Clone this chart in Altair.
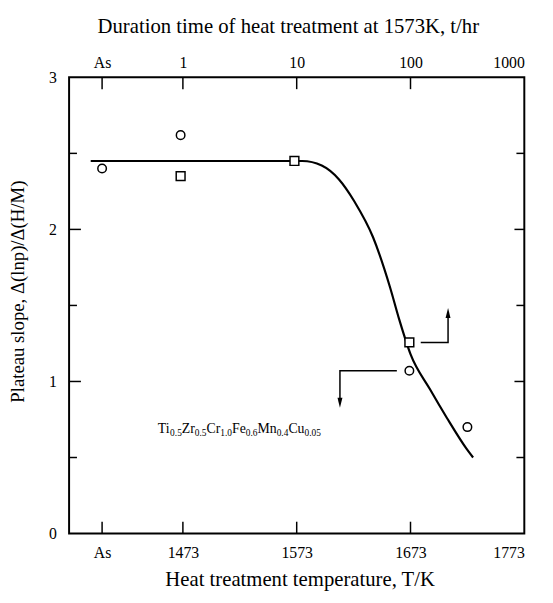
import altair as alt
import pandas as pd

# ---------------- data ----------------
x_ticks = [1402, 1473, 1573, 1673, 1773]
x_labels_bottom = ["As", "1473", "1573", "1673", "1773"]
x_labels_top = ["As", "1", "10", "100", "1000"]
y_labels = [0, 1, 2, 3]
y_major = [1, 2]
y_minor = [0.5, 1.5, 2.5]

circle_x = [1402, 1471, 1672, 1723]
circle_y = [2.40, 2.62, 1.07, 0.70]
square_x = [1471, 1571, 1672]
square_y = [2.35, 2.45, 1.257]

curve_x = [1392, 1578, 1595, 1610, 1624, 1640, 1655, 1663, 1673, 1690, 1705, 1722, 1728]
curve_y = [2.45, 2.45, 2.42, 2.33, 2.18, 1.95, 1.62, 1.41, 1.18, 0.95, 0.76, 0.56, 0.50]

arrow_up_x = [1682, 1706, 1706]
arrow_up_y = [1.257, 1.257, 1.45]
arrow_down_x = [1661, 1611, 1611]
arrow_down_y = [1.07, 1.07, 0.86]

elements = ["Ti", "Zr", "Cr", "Fe", "Mn", "Cu"]
subs = ["0.5", "0.5", "1.0", "0.6", "0.4", "0.05"]
label_anchor = (1451, 0.66)

FONT = "Liberation Serif"
W, H = 462, 463
XDOM = [1373, 1773]
YDOM = [0, 3]

xs = alt.Scale(domain=XDOM, nice=False, zero=False)
ys = alt.Scale(domain=YDOM, nice=False, zero=True)

ticks_arr = "[" + ",".join(str(v) for v in x_ticks) + "]"
bot_arr = "[" + ",".join("'" + s + "'" for s in x_labels_bottom) + "]"
top_arr = "[" + ",".join("'" + s + "'" for s in x_labels_top) + "]"

circles = pd.DataFrame({"x": circle_x, "y": circle_y})
squares = pd.DataFrame({"x": square_x, "y": square_y})
curve = pd.DataFrame({"x": curve_x, "y": curve_y, "o": range(len(curve_x))})

base_axis = dict(labelFont=FONT, titleFont=FONT, labelColor="black", titleColor="black",
                 titleFontWeight="normal", ticks=False, domain=False, grid=False,
                 labelFontSize=16)


def X(**kw):
    return alt.X("x:Q", scale=xs, axis=None, **kw)


def Y(**kw):
    return alt.Y("y:Q", scale=ys, axis=None, **kw)


# bottom axis + left axis (curve)
curve_layer = alt.Chart(curve).mark_line(color="black", strokeWidth=2.2, interpolate="monotone").encode(
    x=alt.X("x:Q", scale=xs, axis=alt.Axis(
        orient="bottom", values=x_ticks, labelExpr=bot_arr + "[indexof(" + ticks_arr + ", datum.value)]",
        title="Heat treatment temperature, T/K", labelPadding=11, titlePadding=9,
        titleFontSize=21, titleX=234, **base_axis)),
    y=alt.Y("y:Q", scale=ys, axis=alt.Axis(
        orient="left", values=y_labels, format="d", title="Plateau slope, Δ(lnp)/Δ(H/M)",
        labelPadding=13, titlePadding=21, titleFontSize=19, titleY=217, **base_axis)),
    order="o:Q",
)

# top axis (squares)
square_layer = alt.Chart(squares).mark_point(shape="square", size=80, filled=True, fill="white",
                                               stroke="black", strokeWidth=1.5, opacity=1).encode(
    x=alt.X("x:Q", scale=xs, axis=alt.Axis(
        orient="top", values=x_ticks, labelExpr=top_arr + "[indexof(" + ticks_arr + ", datum.value)]",
        title="Duration time of heat treatment at 1573K, t/hr", labelPadding=7, titlePadding=18,
        titleFontSize=21, titleX=222, **base_axis)),
    y=Y(),
)

circle_layer = alt.Chart(circles).mark_point(shape="circle", size=75, filled=True, fill="white",
                                               stroke="black", strokeWidth=1.5, opacity=1).encode(
    x=X(), y=Y())

HEAD_UP = "M0,-1L0.5,1L-0.5,1Z"
HEAD_DOWN = "M0,1L0.5,-1L-0.5,-1Z"


def arrow(xv, yv, head):
    df = pd.DataFrame({"x": xv, "y": yv, "o": range(len(xv))})
    line = alt.Chart(df).mark_line(color="black", strokeWidth=1.5).encode(x=X(), y=Y(), order="o:Q")
    hd = pd.DataFrame({"x": [xv[-1]], "y": [yv[-1]]})
    h = alt.Chart(hd).mark_point(shape=head, size=100, filled=True, color="black", opacity=1,
                                 strokeWidth=0).encode(x=X(), y=Y())
    return [line, h]


arrows = arrow(arrow_up_x, arrow_up_y, HEAD_UP) + arrow(arrow_down_x, arrow_down_y, HEAD_DOWN)

# inward ticks
tick_df = pd.DataFrame({"x": x_ticks[:4]})
bt = alt.Chart(tick_df).mark_rule(color="black", strokeWidth=1.5).encode(
    x=X(), y=alt.value(H), y2=alt.value(H - 12))
tt = alt.Chart(tick_df).mark_rule(color="black", strokeWidth=1.5).encode(
    x=X(), y=alt.value(0), y2=alt.value(12))
ymaj = pd.DataFrame({"y": y_major})
ymin = pd.DataFrame({"y": y_minor})
lt1 = alt.Chart(ymaj).mark_rule(color="black", strokeWidth=1.5).encode(y=Y(), x=alt.value(0), x2=alt.value(12))
lt2 = alt.Chart(ymin).mark_rule(color="black", strokeWidth=1.5).encode(y=Y(), x=alt.value(0), x2=alt.value(8))
rt1 = alt.Chart(ymaj).mark_rule(color="black", strokeWidth=1.5).encode(y=Y(), x=alt.value(W), x2=alt.value(W - 10))
rt2 = alt.Chart(ymin).mark_rule(color="black", strokeWidth=1.5).encode(y=Y(), x=alt.value(W), x2=alt.value(W - 8))

# composition label with subscripts
cw = {"T": .611, "i": .278, "Z": .611, "r": .333, "C": .667, "F": .556, "e": .444,
      "M": .889, "n": .5, "u": .5, ".": .25}


def width(s, fs):
    return sum(cw.get(c, .5) for c in s) * fs


adf = pd.DataFrame({"x": [label_anchor[0]], "y": [label_anchor[1]]})
label_layers = []
off = 0.0
for el, sb in zip(elements, subs):
    label_layers.append(alt.Chart(adf).mark_text(text=el, font=FONT, fontSize=14, align="left",
                                                 baseline="alphabetic", dx=off, color="black").encode(
        x=X(), y=Y()))
    off += width(el, 14)
    label_layers.append(alt.Chart(adf).mark_text(text=sb, font=FONT, fontSize=9.5, align="left",
                                                 baseline="alphabetic", dx=off, dy=3, color="black").encode(
        x=X(), y=Y()))
    off += width(sb, 9.5)

chart = alt.layer(curve_layer, *arrows, square_layer, circle_layer, bt, tt, lt1, lt2, rt1, rt2,
                  *label_layers).resolve_axis(x="independent", y="independent").properties(
    width=W, height=H, autosize="none",
    padding={"left": 62, "top": 66, "right": 21, "bottom": 58},
    background="white",
).configure_view(stroke="black", strokeWidth=2)

chart.save("out.html", embed_options={"renderer": "svg", "actions": False})
